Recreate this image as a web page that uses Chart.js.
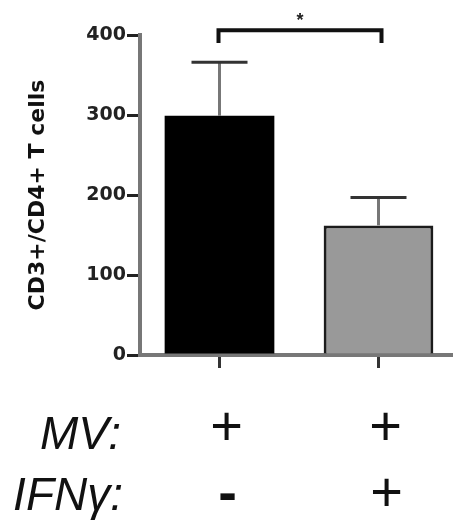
<!DOCTYPE html>
<html>
<head>
<meta charset="utf-8">
<script src="https://cdn.jsdelivr.net/npm/chart.js@4/dist/chart.umd.min.js"></script>
<style>
html,body{margin:0;padding:0;background:#fff;overflow:hidden;}
#wrap{width:458px;height:520px;}
</style>
</head>
<body>
<div id="wrap"><canvas id="c" width="458" height="520"></canvas></div>
<script>
// ---- data ----
const categories = ['MV', 'MV + IFNγ'];
const cellCounts = [299, 162];
const semValues = [67, 35];
const yTicks = [0, 100, 200, 300, 400];
const yTitle = 'CD3+/CD4+ T cells';
const rowLabels = ['MV:', 'IFNγ:'];
const mvRow = ['+', '+'];
const ifnRow = ['-', '+'];
const significance = '*';
const bracketLevel = 406;
const bracketLeg = 390;
const starLevel = 423;

const overlay = {
  id: 'overlay',
  afterDatasetsDraw(chart) {
    const ctx = chart.ctx;
    const ys = chart.scales.y;
    const meta = chart.getDatasetMeta(0);
    ctx.save();
    // error bars
    meta.data.forEach((bar, i) => {
      const x = bar.x;
      const yTop = ys.getPixelForValue(cellCounts[i]);
      const yErr = ys.getPixelForValue(cellCounts[i] + semValues[i]);
      ctx.strokeStyle = '#777';
      ctx.lineWidth = 3;
      ctx.beginPath(); ctx.moveTo(x, yTop); ctx.lineTo(x, yErr); ctx.stroke();
      ctx.strokeStyle = '#333';
      ctx.beginPath(); ctx.moveTo(x - 28, yErr); ctx.lineTo(x + 28, yErr); ctx.stroke();
    });
    // significance bracket
    const x1 = meta.data[0].x - 1, x2 = meta.data[1].x + 3;
    const yb = ys.getPixelForValue(bracketLevel);
    const yl = ys.getPixelForValue(bracketLeg);
    ctx.strokeStyle = '#111';
    ctx.lineWidth = 4;
    ctx.lineJoin = 'miter';
    ctx.beginPath();
    ctx.moveTo(x1, yl); ctx.lineTo(x1, yb); ctx.lineTo(x2, yb); ctx.lineTo(x2, yl);
    ctx.stroke();
    ctx.fillStyle = '#222';
    ctx.font = 'bold 18px "Liberation Sans", Arial, sans-serif';
    ctx.textAlign = 'center';
    ctx.textBaseline = 'middle';
    ctx.fillText(significance, (x1 + x2) / 2, ys.getPixelForValue(starLevel) + 4);
    ctx.restore();
  },
  afterDraw(chart) {
    const ctx = chart.ctx;
    const meta = chart.getDatasetMeta(0);
    ctx.save();
    ctx.fillStyle = '#111';
    ctx.textBaseline = 'alphabetic';
    ctx.textAlign = 'right';
    ctx.font = 'italic 46px "Liberation Sans", Arial, sans-serif';
    ctx.fillText(rowLabels[0], 121, 449);
    ctx.fillText(rowLabels[1], 123, 510);
    ctx.textAlign = 'center';
    ctx.font = '56px "Liberation Sans", Arial, sans-serif';
    meta.data.forEach((bar, i) => {
      ctx.fillText(mvRow[i], bar.x + 7, 445);
    });
    meta.data.forEach((bar, i) => {
      ctx.font = (ifnRow[i] === '-' ? 'bold ' : '') + '56px "Liberation Sans", Arial, sans-serif';
      ctx.fillText(ifnRow[i], bar.x + 8, 511);
    });
    ctx.restore();
  }
};

new Chart(document.getElementById('c'), {
  type: 'bar',
  data: {
    labels: categories,
    datasets: [{
      data: cellCounts,
      backgroundColor: ['#000000', '#999999'],
      borderColor: ['#000000', '#1c1c1c'],
      borderWidth: [0, 3],
      borderSkipped: 'bottom',
      categoryPercentage: 1,
      barPercentage: 0.69
    }]
  },
  options: {
    responsive: false,
    animation: false,
    events: [],
    layout: { padding: { top: 35, right: 0, bottom: 0, left: 0 } },
    plugins: { legend: { display: false }, tooltip: { enabled: false } },
    scales: {
      x: {
        offset: true,
        afterFit(scale) { scale.height = 165; },
        grid: { offset: false, drawOnChartArea: false, drawTicks: true, tickLength: 13, color: '#333', lineWidth: 3 },
        border: { display: true, color: '#777', width: 4 },
        ticks: { display: false }
      },
      y: {
        min: 0,
        max: 400,
        afterFit(scale) { scale.width = 140; },
        afterBuildTicks(scale) { scale.ticks = yTicks.map(v => ({ value: v })); },
        grid: { drawOnChartArea: false, drawTicks: true, tickLength: 13, color: '#222', lineWidth: 3 },
        border: { display: true, color: '#777', width: 4 },
        ticks: {
          color: '#222',
          padding: 1,
          font: { family: '"DejaVu Sans", sans-serif', weight: 'bold', size: 19 }
        },
        title: {
          display: true,
          text: yTitle,
          color: '#111',
          padding: { top: 25, bottom: 0 },
          font: { family: '"DejaVu Sans", sans-serif', weight: 'bold', size: 22 }
        }
      }
    }
  },
  plugins: [overlay]
});
</script>
</body>
</html>
